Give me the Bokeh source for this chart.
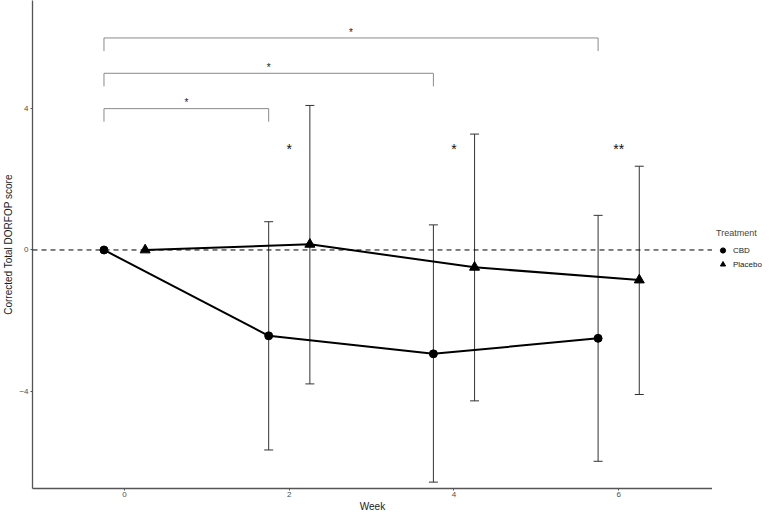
from bokeh.plotting import figure
from bokeh.layouts import row
from bokeh.models import (Range1d, FixedTicker, Whisker, ColumnDataSource, Legend,
                          LegendItem, Span, TeeHead)
from bokeh.core.properties import value
from bokeh.embed import file_html
from bokeh.resources import INLINE

# ---------------- data ----------------
weeks = [0, 2, 4, 6]
cbd_mean = [0.0, -2.43, -2.94, -2.50]
cbd_upper = [0.0, 0.80, 0.71, 0.98]
cbd_lower = [0.0, -5.66, -6.57, -5.98]
placebo_mean = [0.0, 0.16, -0.49, -0.85]
placebo_upper = [0.0, 4.09, 3.28, 2.37]
placebo_lower = [0.0, -3.79, -4.27, -4.09]

# between-timepoint comparisons (CBD, vs week 0)
bracket_start_week = [0, 0, 0]
bracket_end_week = [2, 4, 6]
bracket_level = [4.0, 5.0, 6.0]
bracket_labels = ["*", "*", "*"]

# between-group significance at each week
sig_weeks = [2, 4, 6]
sig_labels = ["*", "*", "**"]
sig_level = 3.08

groups = ["CBD", "Placebo"]
x_ticks = [0, 2, 4, 6]
y_ticks = [-4, 0, 4]

# ---------------- style ----------------
FONT = value("Liberation Sans")
DODGE = 0.25
TIP = 0.37
H = 514
W_MAIN = 712
W_LEG = 54

cbd_x = [w - DODGE for w in weeks]
pla_x = [w + DODGE for w in weeks]

x_start = -1.118
x_end = x_start + (W_MAIN - 25) / 83.2
p = figure(width=W_MAIN, height=H,
           x_range=Range1d(x_start, x_end),
           y_range=Range1d(-6.75, 7.06),
           output_backend="svg", toolbar_location=None,
           min_border_left=0, min_border_top=0, min_border_bottom=0, min_border_right=0,
           background_fill_color="white", border_fill_color="white")
p.outline_line_color = None
p.xgrid.visible = False
p.ygrid.visible = False

# zero reference line
p.add_layout(Span(location=0, dimension="width", line_color="black",
                  line_width=1, line_dash="5 4"))

# error bars
def err_source(xs, lo, hi):
    keep = [i for i in range(len(xs)) if hi[i] != lo[i]]
    return ColumnDataSource(dict(x=[xs[i] for i in keep],
                                 lower=[lo[i] for i in keep],
                                 upper=[hi[i] for i in keep]))

for xs, lo, hi in ((cbd_x, cbd_lower, cbd_upper), (pla_x, placebo_lower, placebo_upper)):
    w = Whisker(source=err_source(xs, lo, hi), base="x", lower="lower", upper="upper",
                dimension="height", line_color="#333333", line_width=1,
                upper_head=TeeHead(size=9, line_color="#333333", line_width=1),
                lower_head=TeeHead(size=9, line_color="#333333", line_width=1))
    p.add_layout(w)

# lines and points
p.line(cbd_x, cbd_mean, line_color="black", line_width=2)
p.line(pla_x, placebo_mean, line_color="black", line_width=2)
p.scatter(cbd_x, cbd_mean, marker="circle", size=8, fill_color="black", line_color="black")
p.scatter(pla_x, placebo_mean, marker="triangle", size=10, fill_color="black", line_color="black")

# brackets
bx, by = [], []
for s, e, lv in zip(bracket_start_week, bracket_end_week, bracket_level):
    x0, x1 = s - DODGE, e - DODGE
    bx.append([x0, x0, x1, x1])
    by.append([lv - TIP, lv, lv, lv - TIP])
p.multi_line(bx, by, line_color="#8a8a8a", line_width=1)
p.text(x=[(s + e) / 2 - DODGE for s, e in zip(bracket_start_week, bracket_end_week)],
       y=[lv + 0.32 for lv in bracket_level], text=bracket_labels,
       text_font=FONT, text_font_size="10px", text_align="center",
       text_baseline="alphabetic", y_offset=5.5, text_color="#222222")

# group significance
p.text(x=sig_weeks, y=[sig_level] * len(sig_weeks), text=sig_labels,
       text_font=FONT, text_font_size="14px", text_align="center",
       text_baseline="alphabetic", y_offset=8, text_color="#111111")

# axes
for ax in (p.xaxis, p.yaxis):
    ax.axis_line_color = "#555555"
    ax.axis_line_width = 1.3
    ax.major_tick_line_color = "#555555"
    ax.major_tick_in = 0
    ax.major_tick_out = 2
    ax.minor_tick_line_color = None
    ax.major_label_text_font = "Liberation Sans"
    ax.major_label_text_font_size = "8px"
    ax.major_label_text_color = "#4d4d4d"
    ax.axis_label_text_font = "Liberation Sans"
    ax.axis_label_text_font_size = "10px"
    ax.axis_label_text_font_style = "normal"
    ax.axis_label_text_color = "#1a1a1a"
    ax.major_label_standoff = 2
    ax.axis_label_standoff = 2
p.xaxis.major_label_standoff = 1
p.xaxis.axis_label_standoff = 1
p.xaxis.ticker = FixedTicker(ticks=x_ticks)
p.yaxis.ticker = FixedTicker(ticks=y_ticks)
p.xaxis.axis_label = "Week"
p.yaxis.axis_label = "Corrected Total DORFOP score"

# ---------------- legend panel ----------------
# the legend's glyph renderers hold the real series but lie outside this panel's view
lf = figure(width=W_LEG, height=H, x_range=Range1d(100, 101), y_range=Range1d(100, 101),
            x_axis_type=None, y_axis_type=None,
            output_backend="svg", toolbar_location=None,
            min_border_left=0, min_border_top=0, min_border_bottom=0, min_border_right=0)
lf.outline_line_color = None
lf.xgrid.visible = False
lf.ygrid.visible = False
l_cbd = lf.scatter(cbd_x, cbd_mean, marker="circle", size=8, fill_color="black", line_color="black")
l_pla = lf.scatter(pla_x, placebo_mean, marker="triangle", size=10, fill_color="black", line_color="black")

legend = Legend(items=[LegendItem(label=groups[0], renderers=[l_cbd]),
                       LegendItem(label=groups[1], renderers=[l_pla])],
                location=(4, 217), title="Treatment")
legend.title_text_font = "Liberation Sans"
legend.title_text_font_size = "9px"
legend.title_text_font_style = "normal"
legend.title_standoff = 5
legend.label_text_font = "Liberation Sans"
legend.label_text_font_size = "8px"
legend.label_text_color = "#222222"
legend.glyph_width = 13
legend.glyph_height = 14
legend.label_height = 14
legend.spacing = 0
legend.label_standoff = 4
legend.padding = 2
legend.margin = 0
legend.border_line_color = None
legend.background_fill_color = None
lf.add_layout(legend)

layout = row(p, lf, spacing=0)
open("out.html", "w").write(file_html(layout, INLINE))
